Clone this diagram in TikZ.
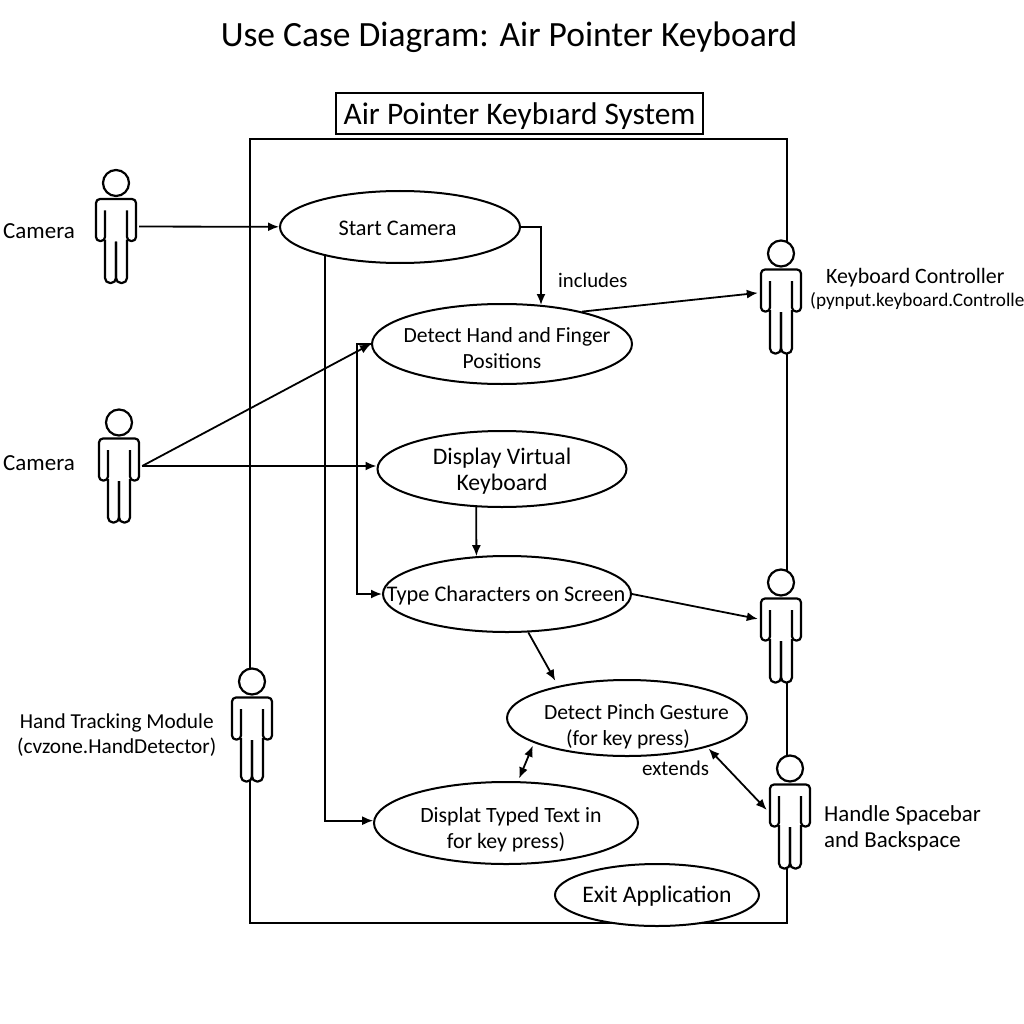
\documentclass[tikz,border=0pt]{standalone}
\usepackage{fontspec}
\setmainfont{Carlito}
\usetikzlibrary{shapes.geometric}
\usetikzlibrary{arrows.meta}
\tikzset{
	usecase/.style={draw, ellipse, line width=2pt, fill=white, inner sep=0pt},
	casetext/.style={align=center, inner sep=0pt},
	actorbox/.style={minimum width=46pt, minimum height=114pt, inner sep=0pt},
	flow/.style={-{Latex[length=11pt,width=9pt]}, line width=1.8pt},
	both/.style={{Latex[length=11pt,width=9pt]}-{Latex[length=11pt,width=9pt]}, line width=1.8pt},
	actortext/.style={align=left, anchor=west, inner sep=0pt},
	actor/.pic={
		\fill[white] (-11,-31) rectangle (11,56);
		\draw[line width=2.2pt, fill=white] (0,-43.5) circle (13);
		\draw[line width=2.2pt, rounded corners=4pt] (-11,-16) -- (-11,14.5) -- (-20,14.5) -- (-20,-27.5) -- (20,-27.5) -- (20,14.5) -- (11,14.5) -- (11,-16);
		\draw[line width=2.2pt, rounded corners=5pt] (-11,13) -- (-11,56.5) -- (0,56.5) -- (0,15);
		\draw[line width=2.2pt, rounded corners=5pt] (11,13) -- (11,56.5) -- (0,56.5) -- (0,15);
	}
}
\begin{document}
\begin{tikzpicture}[x=1pt, y=-1pt]
	\useasboundingbox[fill=white] (0,0) rectangle (1024,1024);
	\node[font=\fontsize{35.5}{42}\selectfont] (title) at (509,37) {Use Case Diagram: Air Pointer Keyboard};
	\draw[line width=2pt] (250,139) rectangle (787,923);
	\node[draw, line width=2pt, minimum width=367pt, minimum height=41pt, inner sep=0pt, text height=30pt, text depth=7pt, font=\fontsize{31.4}{36}\selectfont] (system) at (519.5,113.5) {Air Pointer Keybıard System};
	% actors
	\node[actorbox] (cameraA) at (116,226.5) {};
	\pic at (cameraA) {actor};
	\node[actorbox] (cameraB) at (119,466) {};
	\pic at (cameraB) {actor};
	\node[actorbox] (tracking) at (252,725) {};
	\pic at (tracking) {actor};
	\node[actorbox] (controller) at (781,297) {};
	\pic at (controller) {actor};
	\node[actorbox] (output) at (781,626) {};
	\pic at (output) {actor};
	\node[actorbox] (spacebar) at (790,812) {};
	\pic at (spacebar) {actor};
	% actor labels
	\node[actortext, font=\fontsize{23}{26}\selectfont] (cameraAtext) at (3,231) {Camera};
	\node[actortext, font=\fontsize{23}{26}\selectfont] (cameraBtext) at (3,463) {Camera};
	\node[actortext, align=center, font=\fontsize{21.3}{25}\selectfont] (trackingtext) at (17,735) {Hand Tracking Module\\(cvzone.HandDetector)};
	\node[actortext, font=\fontsize{21.9}{25}\selectfont] (controllertext) at (826,278) {Keyboard Controller};
	\node[actortext, font=\fontsize{19.2}{25}\selectfont] (controllerclass) at (810,301) {(pynput.keyboard.Controlle};
	\node[actortext, font=\fontsize{22.9}{26}\selectfont] (spacebartext) at (824,828) {Handle Spacebar\\and Backspace};
	% use cases
	\node[usecase, minimum width=240pt, minimum height=72pt, label={[casetext, font=\fontsize{22.3}{26}\selectfont, xshift=-2.5pt, yshift=-1pt]center:{Start Camera}}] (start) at (400,227) {};
	\node[usecase, minimum width=260pt, minimum height=80pt, label={[casetext, font=\fontsize{21.6}{26}\selectfont, yshift=-4pt]center:{\hspace*{10pt}Detect Hand and Finger\\Positions}}] (detect) at (502,344) {};
	\node[usecase, minimum width=249pt, minimum height=76pt, label={[casetext, font=\fontsize{23.7}{26}\selectfont, yshift=-2pt]center:{Display Virtual\\Keyboard}}] (display) at (502,469) {};
	\node[usecase, minimum width=248pt, minimum height=76pt, label={[casetext, font=\fontsize{22.3}{26}\selectfont, xshift=-1pt, yshift=-2pt]center:{Type Characters on Screen}}] (typing) at (507,594) {};
	\node[usecase, minimum width=240pt, minimum height=76pt, label={[casetext, font=\fontsize{21.6}{26}\selectfont, xshift=1pt, yshift=-9pt]center:{\hspace*{17pt}Detect Pinch Gesture\\(for key press)}}] (pinch) at (627,718) {};
	\node[usecase, minimum width=264pt, minimum height=82pt, label={[casetext, font=\fontsize{21.8}{26}\selectfont, yshift=-7pt]center:{\hspace*{10pt}Displat Typed Text in\\for key press)}}] (typed) at (506,823) {};
	\node[usecase, minimum width=204pt, minimum height=62pt, label={[casetext, font=\fontsize{23.7}{26}\selectfont, yshift=-1pt]center:{Exit Application}}] (exit) at (657,895) {};
	\node[actortext, font=\fontsize{20.7}{25}\selectfont] (includes) at (558,280) {includes};
	\node[actortext, font=\fontsize{21}{25}\selectfont] (extends) at (642,768) {extends};
	% connectors
	\coordinate (detectin) at (541,305);
	\draw[flow] (cameraA) -- (start);
	\draw[flow] (start.east) -| (detectin);
	\draw[flow] (detect.22) -- (controller.170);
	\draw[flow] (cameraB.east) -- (detect.west);
	\draw[flow] (cameraB.east) -- (cameraB.east -| display.west);
	\draw[flow] (detect.west) -- ++(-14,0) |- (typing.west);
	\draw[flow] (display.236) -- (typing.129);
	\draw[flow] (typing.east) -- (output.163);
	\draw[flow, shorten >=6pt] (typing.299) -- (pinch.155);
	\draw[flow] (start.201) |- (typed.179);
	\draw[both, shorten <=3pt, shorten >=3pt] (pinch.195) -- (typed.74);
	\draw[both, shorten <=2pt] (pinch.340) -- (spacebar.175);
\end{tikzpicture}
\end{document}
